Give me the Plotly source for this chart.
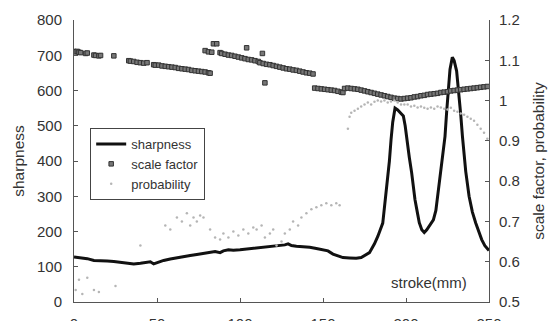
import plotly.graph_objects as go

# ---- data ----
sharp_x = [0, 4, 8, 12, 16, 20, 24, 28, 32, 36, 40, 44, 46, 48, 50, 54, 58, 62, 66, 70, 74, 78, 82, 85, 88,
           90, 93, 96, 100, 104, 108, 112, 116, 120, 124, 127, 129, 131, 134, 138, 142, 146, 150, 153, 156,
           159, 162, 166, 170, 173, 176, 178, 181, 183, 186, 188.4, 190, 191, 192, 193.4, 195, 197, 198.4,
           199.5, 200.4, 202, 203.4, 205.4, 207, 208, 209.5, 211, 212.5, 214, 215.5, 216.5, 218, 219, 220,
           221, 222, 223.5, 224.5, 225.5, 226.5, 227.9, 229, 230.5, 232, 233, 234, 236, 238, 240, 242, 244,
           245.6, 247.5, 249.4, 250]
sharp_y = [128, 126, 123, 118, 116, 116, 115, 113, 110, 108, 110, 112, 114, 108, 112, 118, 122, 126, 129, 132,
           135, 138, 141, 143, 140, 145, 148, 147, 148, 150, 152, 154, 156, 157, 159, 162, 165, 160, 158, 157,
           155, 152, 149, 145, 136, 130, 126, 125, 124, 126, 135, 140, 165, 186, 224, 319, 400, 461, 510, 550,
           545, 535, 528, 500, 461, 410, 367, 291, 250, 225, 205, 197, 205, 215, 225, 233, 260, 300, 340,
           380, 410, 470, 540, 613, 660, 694, 685, 655, 590, 530, 470, 370, 300, 255, 224, 195,
           177, 160, 148, 146]

scale_x = [0, 1, 2, 3, 4, 7, 8, 12, 13, 15, 16, 24,
           33, 34, 36, 38, 40, 42, 44,
           48, 49, 51, 53, 55, 57, 59, 61, 63, 65, 67, 69, 71, 73, 75, 77, 79, 81, 82,
           79, 81, 83, 84, 86,
           88, 89, 91, 93, 95, 97, 99, 101, 103, 105, 107, 109, 111,
           104, 113.5, 115,
           112, 114, 116, 118, 120, 122, 124, 126, 128, 130, 132, 134, 136, 138, 140, 142, 144,
           145, 147, 149, 151, 153, 155, 157, 159, 161, 162,
           163, 165, 167, 169, 171, 173, 175, 177, 179, 181, 183, 185, 187, 189, 191, 193, 195, 197,
           199, 201, 203, 205, 207, 209, 211, 213, 215, 217, 219, 221, 223, 225, 227, 229, 231, 233,
           235, 237, 239, 241, 243, 245, 247, 249]
scale_y = [1.122, 1.121, 1.122, 1.120, 1.119, 1.117, 1.118, 1.113, 1.112, 1.111, 1.112, 1.111,
           1.099, 1.098, 1.097, 1.095, 1.094, 1.093, 1.094,
           1.089, 1.088, 1.088, 1.086, 1.085, 1.084, 1.083, 1.082, 1.080, 1.079, 1.078, 1.077, 1.075,
           1.074, 1.073, 1.072, 1.071, 1.069, 1.068,
           1.124, 1.121, 1.120, 1.141, 1.141,
           1.119, 1.117, 1.115, 1.113, 1.112, 1.110, 1.108, 1.106, 1.104, 1.102, 1.101, 1.099, 1.097,
           1.131, 1.117, 1.044,
           1.094, 1.092, 1.090, 1.089, 1.087, 1.085, 1.083, 1.081, 1.079, 1.078, 1.076, 1.075, 1.073,
           1.071, 1.069, 1.068, 1.066,
           1.031, 1.030, 1.029, 1.028, 1.027, 1.026, 1.025, 1.023, 1.021, 1.020,
           1.030, 1.031, 1.030, 1.029, 1.028, 1.026, 1.024, 1.022, 1.020, 1.018, 1.016, 1.014, 1.012,
           1.010, 1.008, 1.006, 1.005, 1.004,
           1.005, 1.006, 1.007, 1.009, 1.010, 1.012, 1.013, 1.015, 1.016, 1.017, 1.018, 1.020, 1.021,
           1.022, 1.024, 1.025, 1.026, 1.027, 1.028, 1.029, 1.030, 1.031, 1.032, 1.033, 1.034, 1.035]

prob_x = [1, 3, 5, 8, 12, 15, 25, 40, 55, 58, 62, 65, 68, 70, 72, 74, 76, 78, 82, 85, 88, 90, 93, 96, 99,
          102, 105, 108, 110, 113, 115, 118, 120, 122, 125, 127, 130, 132, 135, 137, 140, 143, 146, 149,
          152, 155, 158, 160,
          165, 166, 167, 169, 171, 173, 175, 177, 179, 181, 183, 185, 187, 189, 191, 193, 195, 197, 199,
          201, 203, 205, 207, 209, 211, 213, 215, 217, 219, 221, 223, 225, 227, 229, 231, 233, 235, 237,
          239, 241, 243, 245, 247, 249]
prob_y = [0.53, 0.555, 0.52, 0.56, 0.53, 0.525, 0.54, 0.64, 0.69, 0.68, 0.71, 0.70, 0.72, 0.69, 0.71, 0.70,
          0.715, 0.71, 0.68, 0.66, 0.655, 0.67, 0.66, 0.675, 0.665, 0.68, 0.67, 0.685, 0.68, 0.69, 0.66,
          0.67, 0.68, 0.64, 0.65, 0.67, 0.68, 0.70, 0.69, 0.71, 0.72, 0.73, 0.735, 0.74, 0.745, 0.74,
          0.745, 0.74,
          0.93, 0.96, 0.97, 0.975, 0.98, 0.985, 0.99, 0.995, 0.99, 0.997, 1.0, 0.998, 1.0, 0.995, 0.998,
          1.0, 0.995, 0.99, 0.99, 0.99, 0.985, 0.987, 0.983, 0.985, 0.982, 0.98, 0.983, 0.98, 0.985,
          0.983, 0.98, 0.978, 0.982, 0.975, 0.972, 0.968, 0.965, 0.96, 0.955, 0.95, 0.94, 0.93, 0.92,
          0.905]

x_ticks = [0, 50, 100, 150, 200, 250]
y_ticks = [0, 100, 200, 300, 400, 500, 600, 700, 800]
y2_ticks = [0.5, 0.6, 0.7, 0.8, 0.9, 1.0, 1.1, 1.2]
y2_labels = ["0.5", "0.6", "0.7", "0.8", "0.9", "1", "1.1", "1.2"]

FONT = "Liberation Sans, Arial, sans-serif"
AX = "#555"

fig = go.Figure()
fig.add_trace(go.Scatter(x=sharp_x, y=sharp_y, mode="lines", name="sharpness",
                         line=dict(color="#111", width=3)))
fig.add_trace(go.Scatter(x=scale_x, y=scale_y, mode="markers", name="scale factor", yaxis="y2",
                         marker=dict(symbol="square", size=4.5, color="#777",
                                     line=dict(color="#333", width=1))))
fig.add_trace(go.Scatter(x=prob_x, y=prob_y, mode="markers", name="probability", yaxis="y2",
                         marker=dict(symbol="circle", size=2.5, color="#b5b5b5")))

fig.add_annotation(x=214, y=54, xref="x", yref="y", text="stroke(mm)", showarrow=False,
                   font=dict(family=FONT, size=15, color="#333"))

fig.update_layout(
    width=549, height=321,
    margin=dict(l=74, r=60, t=20, b=19, autoexpand=False),
    paper_bgcolor="white", plot_bgcolor="white",
    font=dict(family=FONT, size=15, color="#333"),
    showlegend=True,
    legend=dict(x=0.039, y=0.617, xanchor="left", yanchor="top",
                bgcolor="white", bordercolor="#444", borderwidth=1,
                font=dict(family=FONT, size=13, color="#333"),
                tracegroupgap=0, itemwidth=30),
    xaxis=dict(range=[0, 250], tickvals=x_ticks, showgrid=False, zeroline=False,
               showline=True, linecolor=AX, linewidth=1, automargin=False,
               ticks="inside", ticklen=4, tickcolor=AX, ticklabelstandoff=8,
               tickfont=dict(family=FONT, size=15, color="#333")),
    yaxis=dict(range=[0, 800], tickvals=y_ticks, showgrid=False, zeroline=False,
               showline=True, linecolor=AX, linewidth=1, automargin=False,
               ticks="inside", ticklen=4, tickcolor=AX, ticklabelstandoff=8,
               tickfont=dict(family=FONT, size=15, color="#333"),
               title=dict(text="sharpness", standoff=8,
                          font=dict(family=FONT, size=15.5, color="#333"))),
    yaxis2=dict(range=[0.5, 1.2], tickvals=y2_ticks, ticktext=y2_labels, overlaying="y",
                side="right", showgrid=False, zeroline=False,
                showline=True, linecolor=AX, linewidth=1, automargin=False,
                ticks="inside", ticklen=4, tickcolor=AX, ticklabelstandoff=6,
                tickfont=dict(family=FONT, size=15, color="#333"),
                title=dict(text="scale factor, probability", standoff=14,
                           font=dict(family=FONT, size=15.5, color="#333"))),
)

fig.write_html("out.html", config={"displayModeBar": False},
               post_script="document.body.style.margin='0px';")
